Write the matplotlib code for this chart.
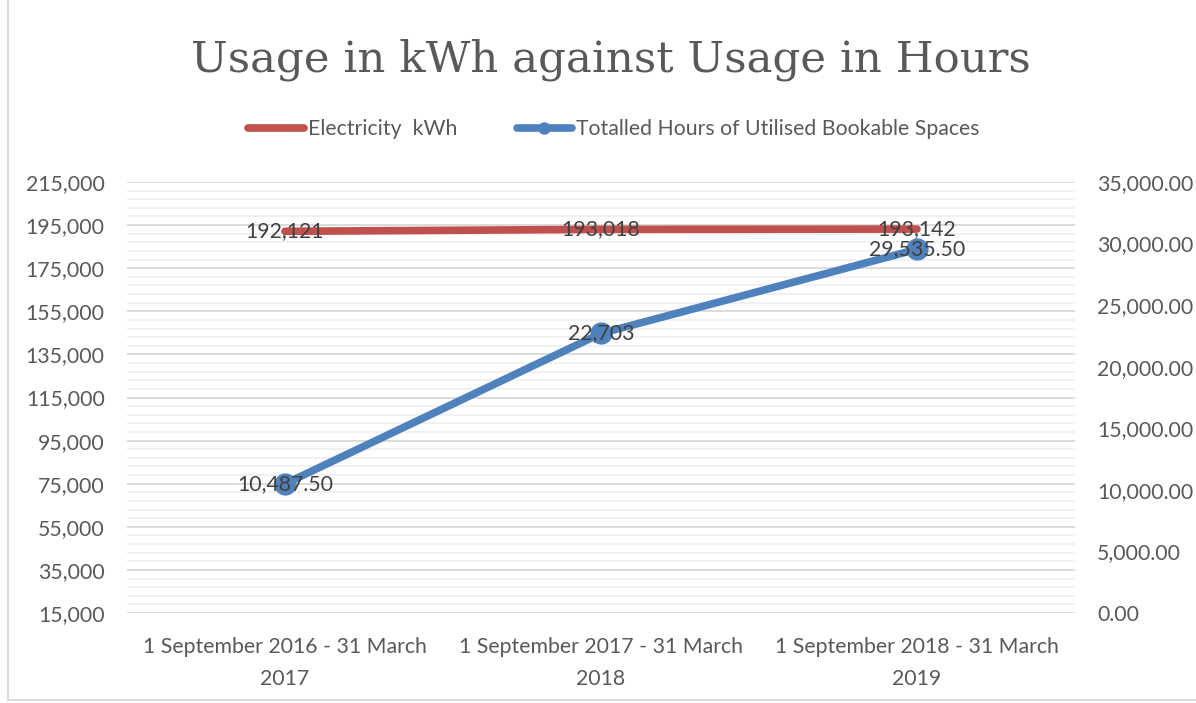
import numpy as np
import matplotlib
matplotlib.use('Agg')
import matplotlib.pyplot as plt
from matplotlib.ticker import FixedLocator, MultipleLocator, FuncFormatter
from matplotlib.lines import Line2D

# 数据
periods = ['1 September 2016 - 31 March\n2017',
           '1 September 2017 - 31 March\n2018',
           '1 September 2018 - 31 March\n2019']
electricity_kwh = [192121, 193018, 193142]
hours_used = [10487.50, 22703, 29535.50]
kwh_labels = ['192,121', '193,018', '193,142']
hours_labels = ['10,487.50', '22,703', '29,535.50']

red = '#C0504D'
blue = '#4F81BD'
grey = '#595959'
fs = 15.3
plt.rcParams['font.family'] = ['Lato', 'DejaVu Sans']

fig = plt.figure(figsize=(11.96, 7.03), dpi=100)
ax = fig.add_axes([127 / 1196, 1 - 613 / 703, 948 / 1196, 431 / 703])
ax2 = ax.twinx()

x = np.arange(len(periods))

# 左轴: kWh
ax.set_ylim(15000, 215000)
ax.set_xlim(-0.5, 2.5)
ax.yaxis.set_major_locator(FixedLocator(np.arange(15000, 215001, 20000)))
ax.yaxis.set_minor_locator(FixedLocator(np.arange(15000, 215001, 4000)))
ax.yaxis.set_major_formatter(FuncFormatter(lambda v, p: f'{v:,.0f}'))
ax.grid(True, which='major', axis='y', color='#D9D9D9', lw=1.3)
ax.grid(True, which='minor', axis='y', color='#F0F0F0', lw=1.3)
ax.set_axisbelow(True)

# 右轴: hours
ax2.set_ylim(0, 35000)
ax2.yaxis.set_major_locator(MultipleLocator(5000))
ax2.yaxis.set_major_formatter(FuncFormatter(lambda v, p: f'{v:,.2f}'))

ax.plot(x, electricity_kwh, color=red, lw=5.5, solid_capstyle='round', zorder=3)
ax2.plot(x, hours_used, color=blue, lw=5.5, marker='o', markersize=15,
         solid_capstyle='round', zorder=3)

for xi, v, t in zip(x, electricity_kwh, kwh_labels):
    ax.text(xi, v, t, ha='center', va='center', fontsize=fs, color='#404040', zorder=5)
for xi, v, t in zip(x, hours_used, hours_labels):
    ax2.text(xi, v, t, ha='center', va='center', fontsize=fs, color='#404040', zorder=5)

ax.set_xticks(x)
ax.set_xticklabels(periods, fontsize=fs, color=grey, linespacing=1.8)
for a in (ax, ax2):
    for s in a.spines.values():
        s.set_visible(False)
    a.tick_params(which='both', length=0, labelsize=fs, labelcolor=grey)
ax.tick_params(axis='y', pad=16)
ax2.tick_params(axis='y', pad=16)
ax.tick_params(axis='x', pad=17)

# 标题
fig.text(611 / 1196, 1 - 60 / 703, 'Usage in kWh against Usage in Hours',
         ha='center', va='center', fontsize=31.3, color=grey, family='DejaVu Serif')

# 图例
handles = [Line2D([], [], color=red, lw=5.5, solid_capstyle='round'),
           Line2D([], [], color=blue, lw=5.5, marker='o', markersize=8, solid_capstyle='round')]
fig.legend(handles, ['Electricity  kWh', 'Totalled Hours of Utilised Bookable Spaces'],
           loc='center', bbox_to_anchor=(614 / 1196, 1 - 129 / 703), ncol=2,
           frameon=False, fontsize=fs, labelcolor=grey, handlelength=2.6,
           handletextpad=0.2, columnspacing=2.8)

# 图表边框
fig.add_artist(Line2D([8 / 1196, 8 / 1196], [3 / 703, 1], color='#D9D9D9', lw=1.3))
fig.add_artist(Line2D([8 / 1196, 1], [3 / 703, 3 / 703], color='#D9D9D9', lw=1.3))

fig.savefig('out.png', dpi=100)
